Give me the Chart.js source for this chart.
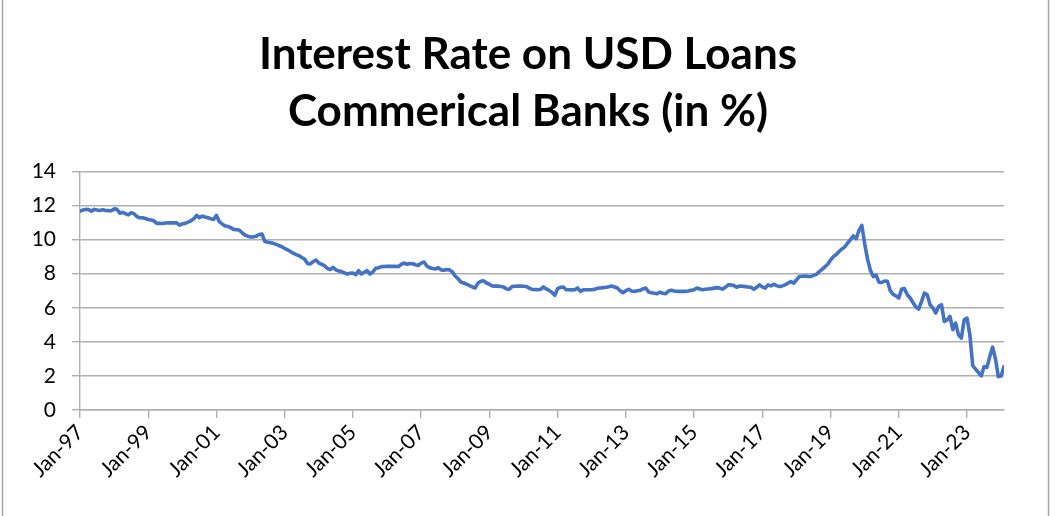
<!DOCTYPE html>
<html>
<head>
<meta charset="utf-8">
<title>Interest Rate on USD Loans</title>
<script src="https://cdn.jsdelivr.net/npm/chart.js@4/dist/chart.umd.min.js"></script>
<style>
  html, body { margin: 0; padding: 0; background: #fff; }
  #wrap { width: 1056px; height: 516px; }
</style>
</head>
<body>
<div id="wrap"><canvas id="rateChart" width="1056" height="516"></canvas></div>
<script>
// monthly rate, Jan-97 .. Feb-24 (one row per year)
const rates = [
  11.67, 11.73, 11.77, 11.76, 11.67, 11.77, 11.74, 11.71, 11.75, 11.71, 11.70, 11.69,
  11.80, 11.78, 11.55, 11.60, 11.52, 11.45, 11.58, 11.52, 11.35, 11.28, 11.28, 11.24,
  11.18, 11.15, 11.10, 10.95, 10.96, 10.94, 10.97, 10.99, 10.98, 10.99, 10.98, 10.85,
  10.92, 10.95, 11.02, 11.10, 11.22, 11.42, 11.28, 11.38, 11.32, 11.28, 11.22, 11.18,
  11.42, 11.05, 10.92, 10.80, 10.78, 10.70, 10.60, 10.58, 10.56, 10.40, 10.27, 10.20,
  10.15, 10.16, 10.20, 10.30, 10.33, 9.90, 9.84, 9.82, 9.78, 9.72, 9.65, 9.58,
  9.48, 9.40, 9.30, 9.20, 9.12, 9.06, 8.95, 8.86, 8.60, 8.57, 8.70, 8.80,
  8.62, 8.55, 8.47, 8.30, 8.24, 8.37, 8.22, 8.15, 8.12, 8.05, 7.98, 8.02,
  8.04, 7.94, 8.18, 7.98, 8.08, 8.18, 7.98, 8.10, 8.31, 8.35, 8.41, 8.42,
  8.43, 8.43, 8.43, 8.43, 8.41, 8.55, 8.62, 8.55, 8.60, 8.58, 8.52, 8.48,
  8.62, 8.68, 8.45, 8.35, 8.30, 8.27, 8.35, 8.22, 8.20, 8.24, 8.22, 8.10,
  7.85, 7.70, 7.50, 7.45, 7.38, 7.30, 7.22, 7.16, 7.45, 7.55, 7.58, 7.45,
  7.38, 7.28, 7.27, 7.27, 7.25, 7.22, 7.10, 7.08, 7.25, 7.26, 7.27, 7.27,
  7.26, 7.25, 7.15, 7.08, 7.07, 7.06, 7.08, 7.22, 7.10, 7.02, 6.90, 6.73,
  7.12, 7.20, 7.22, 7.06, 7.06, 7.05, 7.06, 7.16, 6.96, 7.05, 7.06, 7.06,
  7.06, 7.08, 7.14, 7.16, 7.18, 7.20, 7.23, 7.27, 7.22, 7.16, 7.00, 6.88,
  7.00, 7.08, 6.98, 6.96, 7.00, 7.02, 7.10, 7.16, 6.92, 6.88, 6.85, 6.82,
  6.92, 6.85, 6.82, 6.98, 7.02, 6.98, 6.96, 6.96, 6.96, 6.96, 6.98, 7.02,
  7.05, 7.16, 7.10, 7.06, 7.08, 7.10, 7.12, 7.15, 7.18, 7.15, 7.09, 7.20,
  7.34, 7.34, 7.30, 7.20, 7.28, 7.26, 7.24, 7.22, 7.20, 7.09, 7.20, 7.34,
  7.22, 7.15, 7.34, 7.28, 7.38, 7.30, 7.24, 7.28, 7.34, 7.45, 7.53, 7.44,
  7.63, 7.83, 7.85, 7.86, 7.84, 7.83, 7.90, 7.96, 8.12, 8.25, 8.40, 8.55,
  8.80, 9.00, 9.12, 9.30, 9.45, 9.57, 9.80, 10.00, 10.21, 10.06, 10.54, 10.83,
  9.75, 8.85, 8.20, 7.83, 7.92, 7.50, 7.48, 7.57, 7.55, 7.00, 6.78, 6.70,
  6.57, 7.10, 7.12, 6.76, 6.57, 6.30, 6.05, 5.92, 6.37, 6.86, 6.76, 6.18,
  5.98, 5.69, 6.08, 6.18, 5.20, 5.29, 5.49, 4.71, 5.10, 4.41, 4.22, 5.29,
  5.39, 4.40, 2.60, 2.40, 2.20, 2.00, 2.55, 2.50, 3.14, 3.69, 3.00, 1.96,
  2.00, 2.55
];

// axis labels, one every 24 months starting Jan-97
const tickLabels = ["Jan-97", "Jan-99", "Jan-01", "Jan-03", "Jan-05", "Jan-07", "Jan-09",
  "Jan-11", "Jan-13", "Jan-15", "Jan-17", "Jan-19", "Jan-21", "Jan-23"];
const tickStep = 24;

const yTicks = [0, 2, 4, 6, 8, 10, 12, 14];

const gridGrey = "#b0b0b0";
const lineBlue = "#4472c4";

const points = rates.map((v, i) => ({ x: i, y: v }));

// white background and the side rules of the frame
const frame = {
  id: "frame",
  beforeDraw(chart) {
    const ctx = chart.ctx;
    ctx.save();
    ctx.fillStyle = "#fff";
    ctx.fillRect(0, 0, chart.width, chart.height);
    ctx.restore();
  },
  afterDraw(chart) {
    const ctx = chart.ctx;
    ctx.save();
    ctx.strokeStyle = "#a6a6a6";
    ctx.lineWidth = 1.5;
    ctx.beginPath();
    ctx.moveTo(2.5, 0);
    ctx.lineTo(2.5, chart.height);
    ctx.moveTo(1048.5, 0);
    ctx.lineTo(1048.5, chart.height);
    ctx.stroke();
    ctx.restore();
  }
};

const config = {
  type: "line",
  data: {
    datasets: [{
      label: "Interest rate",
      data: points,
      borderColor: lineBlue,
      backgroundColor: lineBlue,
      borderWidth: 3.6,
      borderJoinStyle: "round",
      borderCapStyle: "round",
      pointRadius: 0,
      tension: 0
    }]
  },
  options: {
    responsive: false,
    animation: false,
    layout: { padding: 0 },
    plugins: {
      legend: { display: false },
      tooltip: { enabled: false },
      title: {
        display: true,
        text: ["Interest Rate on USD Loans", "Commerical Banks (in %)"],
        color: "#000",
        font: { family: "Lato", size: 44, weight: "bold", lineHeight: 1.3 },
        padding: { top: 26, bottom: 31 }
      }
    },
    scales: {
      x: {
        type: "linear",
        min: 0,
        max: rates.length - 1,
        afterBuildTicks(scale) {
          scale.ticks = tickLabels.map((_, i) => ({ value: i * tickStep }));
        },
        afterFit(scale) { scale.height = 106; },
        ticks: {
          autoSkip: false,
          minRotation: 45,
          maxRotation: 45,
          padding: 2,
          color: "#000",
          font: { family: "Lato", size: 21 },
          callback: (value) => tickLabels[Math.round(value / tickStep)]
        },
        grid: {
          drawOnChartArea: false,
          drawTicks: true,
          tickLength: 8,
          color: gridGrey,
          lineWidth: 1.4
        },
        border: { display: true, color: gridGrey, width: 1.4 }
      },
      y: {
        min: 0,
        max: 14,
        afterBuildTicks(scale) {
          scale.ticks = yTicks.map(v => ({ value: v }));
        },
        afterFit(scale) { scale.width = 80; },
        ticks: {
          padding: 16,
          color: "#000",
          font: { family: "Lato", size: 21 }
        },
        grid: {
          color: gridGrey,
          lineWidth: 1.4,
          tickLength: 8
        },
        border: { display: true, color: gridGrey, width: 1.4 }
      },
      // empty right-hand margin so the plot ends where the title centring expects
      yRight: {
        position: "right",
        display: true,
        afterFit(scale) { scale.width = 52; },
        ticks: { display: false },
        grid: { display: false, drawTicks: false },
        border: { display: false }
      }
    }
  },
  plugins: [frame]
};

const rateChart = new Chart(document.getElementById("rateChart"), config);
</script>
</body>
</html>
